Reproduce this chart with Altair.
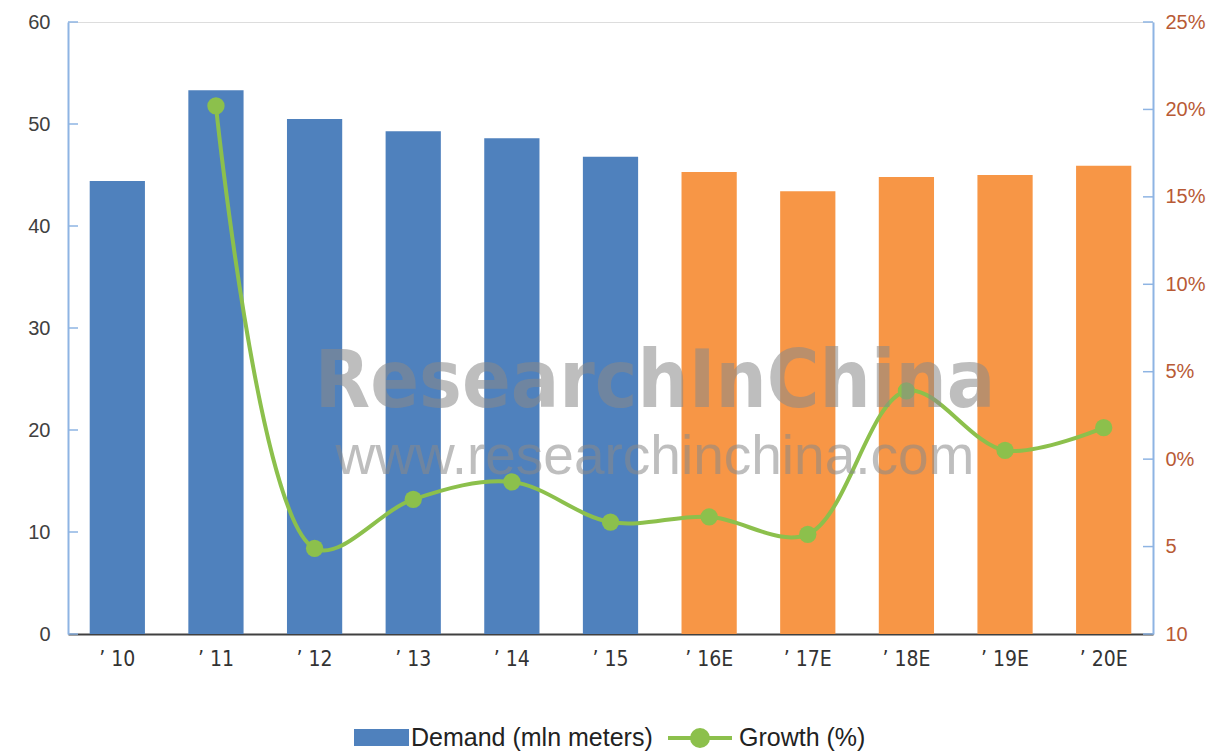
import altair as alt
import pandas as pd

# ---- data ----
years = ["’ 10", "’ 11", "’ 12", "’ 13", "’ 14", "’ 15", "’ 16E", "’ 17E", "’ 18E", "’ 19E", "’ 20E"]
demand = [44.4, 53.3, 50.5, 49.3, 48.6, 46.8, 45.3, 43.4, 44.8, 45.0, 45.9]
growth = [None, 20.2, -5.1, -2.3, -1.3, -3.6, -3.3, -4.3, 3.9, 0.5, 1.8]
estimate = [0, 0, 0, 0, 0, 0, 1, 1, 1, 1, 1]
left_ticks = [0, 10, 20, 30, 40, 50, 60]
right_ticks = [-10, -5, 0, 5, 10, 15, 20, 25]
series_names = ["Demand (mln meters)", "Growth (%)"]

BLUE = "#4f81bd"
ORANGE = "#f79646"
GREEN = "#8cc04c"
AXIS_BLUE = "#8eb4e3"
RIGHT_LBL = "#b85a35"
COND = "DejaVu Sans Condensed, Liberation Sans, sans-serif"

W, H = 1085, 612

bar_df = pd.DataFrame({"year": years, "demand": demand, "est": estimate,
                       "series": series_names[0]})
line_df = pd.DataFrame({"year": years, "growth": growth,
                        "series": series_names[1]})
lt_df = pd.DataFrame({"v": left_ticks})
rt_df = pd.DataFrame({"v": right_ticks})

x_enc = alt.X("year:N", sort=years, title=None,
              scale=alt.Scale(paddingInner=0.44, paddingOuter=0.22),
              axis=alt.Axis(labelAngle=0, ticks=False, domainColor="#404040",
                            domainWidth=2, labelFont=COND,
                            labelFontSize=21, labelColor="#333333", labelPadding=14))

left_axis = alt.Axis(values=left_ticks, title=None, grid=False, ticks=False,
                     domainColor=AXIS_BLUE, domainWidth=2, labelFontSize=20,
                     labelColor="#404040", labelPadding=18, labelFont="Liberation Sans")
right_axis = alt.Axis(values=right_ticks, title=None, grid=False, ticks=False,
                      orient="right", domainColor=AXIS_BLUE, domainWidth=2,
                      labelFontSize=20, labelColor=RIGHT_LBL, labelPadding=12,
                      labelFont="Liberation Sans",
                      labelExpr="datum.value >= 0 ? datum.value + '%' : '' + abs(datum.value)")

leg_common = dict(title=None, orient="none", direction="horizontal",
                  labelFontSize=25, labelColor="#222222", labelFont="Liberation Sans",
                  labelLimit=0)

fill_enc = alt.Fill("series:N", scale=alt.Scale(domain=[series_names[0]], range=[BLUE]),
                    legend=alt.Legend(legendX=286, legendY=688, symbolSize=3025,
                                      labelOffset=2,
                                      symbolType="M-1,-0.31H1V0.31H-1Z",
                                      symbolStrokeWidth=0, symbolOpacity=1, **leg_common))
stroke_enc = alt.Stroke("series:N", scale=alt.Scale(domain=[series_names[1]], range=[GREEN]),
                        legend=alt.Legend(legendX=598, legendY=682, symbolSize=4096,
                                          labelOffset=5,
                                          symbolType="M-1,0H1M-0.25,0A0.25,0.25,0,1,1,0.25,0A0.25,0.25,0,1,1,-0.25,0Z",
                                          symbolStrokeWidth=4, symbolFillColor=GREEN,
                                          symbolOpacity=1, **leg_common))

bars = alt.Chart(bar_df).mark_bar().encode(
    x=x_enc,
    y=alt.Y("demand:Q", scale=alt.Scale(domain=[0, 60], nice=False), axis=left_axis),
    fill=alt.condition("datum.est == 1", alt.value(ORANGE), fill_enc),
)
left_tick_marks = alt.Chart(lt_df).mark_rule(color=AXIS_BLUE, strokeWidth=1.5).encode(
    y=alt.Y("v:Q", scale=alt.Scale(domain=[0, 60], nice=False), axis=left_axis),
    x=alt.value(0), x2=alt.value(10),
)

line = alt.Chart(line_df).mark_line(interpolate="catmull-rom", strokeWidth=4).encode(
    x=x_enc,
    y=alt.Y("growth:Q", scale=alt.Scale(domain=[-10, 25], nice=False), axis=right_axis),
    stroke=stroke_enc,
)
pts = alt.Chart(line_df).mark_point(filled=True, size=300, opacity=1, color=GREEN).encode(
    x=x_enc,
    y=alt.Y("growth:Q", scale=alt.Scale(domain=[-10, 25], nice=False), axis=right_axis),
)
right_tick_marks = alt.Chart(rt_df).mark_rule(color=AXIS_BLUE, strokeWidth=1.5).encode(
    y=alt.Y("v:Q", scale=alt.Scale(domain=[-10, 25], nice=False), axis=right_axis),
    x=alt.value(W - 10), x2=alt.value(W),
)

wm_df = pd.DataFrame({"a": [0]})
wm1 = alt.Chart(wm_df).mark_text(text="ResearchInChina", font=COND,
                                 fontWeight="bold", fontSize=80, color="#8a8a8a",
                                 opacity=0.55, align="center", baseline="alphabetic").encode(
    x=alt.value(587), y=alt.value(385))
wm2 = alt.Chart(wm_df).mark_text(text="www.researchinchina.com", font="Liberation Sans",
                                 fontSize=55, color="#8a8a8a", opacity=0.55,
                                 align="center", baseline="alphabetic").encode(
    x=alt.value(587), y=alt.value(452))

chart = alt.layer(
    alt.layer(bars, left_tick_marks),
    alt.layer(line, pts, right_tick_marks),
    wm1, wm2,
).resolve_scale(y="independent").properties(
    width=W, height=H,
    autosize=alt.AutoSizeParams(type="none"),
    padding={"left": 68, "top": 22, "right": 66, "bottom": 119},
).configure_view(stroke=None).configure(background="white")

chart.save("out.html", embed_options={"renderer": "svg", "actions": False})
